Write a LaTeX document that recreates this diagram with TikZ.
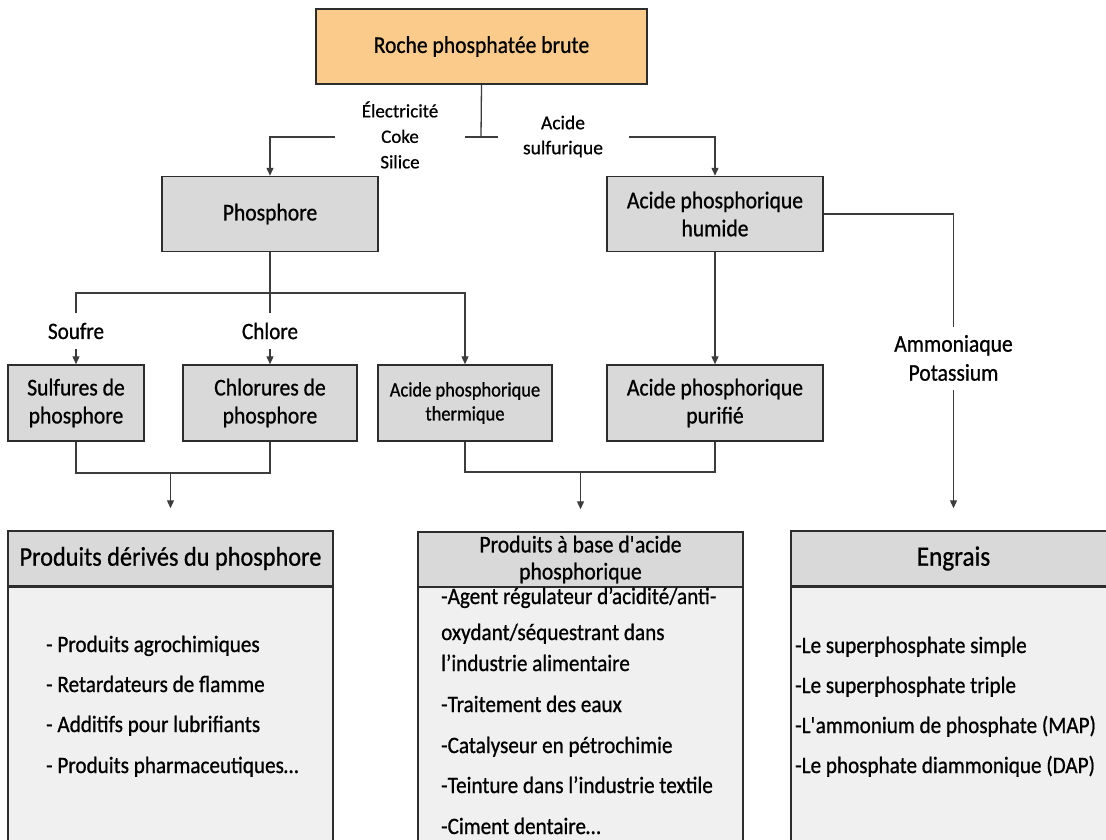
\documentclass[tikz,border=0pt]{standalone}
\usepackage{fontspec}
\setmainfont[FakeStretch=0.9,FakeBold=0.8]{Carlito}
\newfontfamily\labelfont[FakeBold=0.6]{Carlito}
\usetikzlibrary{arrows.meta}

\definecolor{rochefill}{RGB}{250,203,139}
\definecolor{boxgray}{RGB}{217,217,217}
\definecolor{bodygray}{RGB}{240,240,240}
\definecolor{boxline}{RGB}{45,45,45}
\definecolor{linkgray}{RGB}{60,60,60}

\begin{document}
\begin{tikzpicture}[
  x=1pt,
  y=-1pt,
  box/.style={
    draw=boxline,
    line width=1.5pt,
    fill=boxgray,
    inner sep=0pt,
    align=center,
    minimum height=75pt,
    font=\fontsize{24}{28}\selectfont
  },
  headbox/.style={
    box,
    minimum width=325pt,
    minimum height=55pt
  },
  bodybox/.style={
    draw=boxline,
    line width=1.5pt,
    fill=bodygray,
    minimum width=325pt,
    minimum height=290pt,
    anchor=north
  },
  link/.style={
    draw=linkgray,
    line width=1.3pt
  },
  arrow/.style={
    link,
    -{Triangle[length=8pt,width=7pt]}
  },
  cut/.style={
    fill=white,
    inner sep=0pt,
    align=center
  },
  item/.style={
    anchor=base west,
    inner sep=0pt,
    font=\fontsize{23.5}{28}\selectfont
  }
]

\useasboundingbox (0,0) rectangle (1106,839);
\clip (0,0) rectangle (1106,839);
\fill[white] (0,0) rectangle (1106,839);

% boxes
\node[box, fill=rochefill, minimum width=331pt] (roche) at (481.5,46.5) {Roche phosphatée brute};
\node[box, minimum width=216pt] (phos) at (270,214) {Phosphore};
\node[box, minimum width=216pt] (humide) at (715,214) {Acide phosphorique\\humide};
\node[box, minimum width=136pt, minimum height=76pt] (sulf) at (76,403) {Sulfures de\\phosphore};
\node[box, minimum width=174pt, minimum height=76pt] (chlor) at (270,403) {Chlorures de\\phosphore};
\node[box, minimum width=174pt, minimum height=76pt, font=\fontsize{20.5}{24}\selectfont] (therm) at (465,403) {Acide phosphorique\\thermique};
\node[box, minimum width=216pt, minimum height=76pt] (purif) at (715,403) {Acide phosphorique\\purifié};

% product boxes
\node[bodybox] (derivesbody) at (170.5,586) {};
\node[headbox, font=\fontsize{27}{30}\selectfont] (derives) at (170.5,558.5) {Produits dérivés du phosphore};
\node[bodybox] (basebody) at (580.5,586) {};
\node[headbox, font=\fontsize{24}{27}\selectfont] (base) at (580.5,559.5) {Produits à base d\textquotesingle acide\\phosphorique};
\node[bodybox] (engraisbody) at (953.5,586) {};
\node[headbox, font=\fontsize{28}{30}\selectfont] (engrais) at (953.5,558.5) {Engrais};

% top split
\coordinate (split) at (481,137);
\draw[link] (roche.south) -- (split);
\draw[link] ([xshift=-15pt]split) -- ([xshift=15pt]split);
\draw[arrow] (split) -| (phos.north);
\draw[arrow] (split) -| (humide.north);
\node[cut, minimum width=130pt, font=\labelfont\fontsize{19}{25.5}\selectfont] (elec) at (400,135) {Électricité\\Coke\\Silice};
\node[cut, minimum width=131pt, font=\labelfont\fontsize{19.5}{25}\selectfont] (sulfurique) at (563,136.5) {Acide\\sulfurique};

% phosphore branches
\coordinate (pfork) at (270,293);
\draw[arrow] (phos.south) -- (chlor.north);
\draw[arrow] (pfork) -| (sulf.north);
\draw[arrow] (pfork) -| (therm.north);
\node[cut, minimum height=36pt, font=\fontsize{23.5}{28}\selectfont] (soufre) at (76,331) {Soufre};
\node[cut, minimum height=36pt, font=\fontsize{23.5}{28}\selectfont] (chlore) at (270,331) {Chlore};

% acide humide
\draw[arrow] (humide.south) -- (purif.north);
\draw[arrow, shorten >=22pt] (humide.east) -| (engrais.north);
\node[cut, minimum height=63pt, font=\fontsize{24}{29}\selectfont] (ammoniaque) at (953.5,358) {Ammoniaque\\Potassium};

% joins
\coordinate (jleft) at (0,473);
\coordinate (jright) at (0,472);
\draw[link] (sulf.south) -- (sulf.south |- jleft) -- (chlor.south |- jleft) -- (chlor.south);
\draw[arrow, shorten >=22pt] (derives.north |- jleft) -- (derives.north);
\draw[link] (therm.south) -- (therm.south |- jright) -- (purif.south |- jright) -- (purif.south);
\draw[arrow, shorten >=22pt] (base.north |- jright) -- (base.north);

% product lists
\foreach \y/\txt in {652/{- Produits agrochimiques}, 692/{- Retardateurs de flamme}, 732/{- Additifs pour lubrifiants}, 773/{- Produits pharmaceutiques…}} {
  \node[item] at (46,\y) {\txt};
}
\foreach \y/\txt in {604/{-Agent régulateur d’acidité/anti-}, 640/{oxydant/séquestrant dans}, 671/{l’industrie alimentaire}, 712/{-Traitement des eaux}, 753/{-Catalyseur en pétrochimie}, 793/{-Teinture dans l’industrie textile}, 834/{-Ciment dentaire…}} {
  \node[item] at (441,\y) {\txt};
}
\foreach \y/\txt in {653/{-Le superphosphate simple}, 693/{-Le superphosphate triple}, 733/{-L\textquotesingle ammonium de phosphate (MAP)}, 773/{-Le phosphate diammonique (DAP)}} {
  \node[item] at (795,\y) {\txt};
}

\end{tikzpicture}
\end{document}
